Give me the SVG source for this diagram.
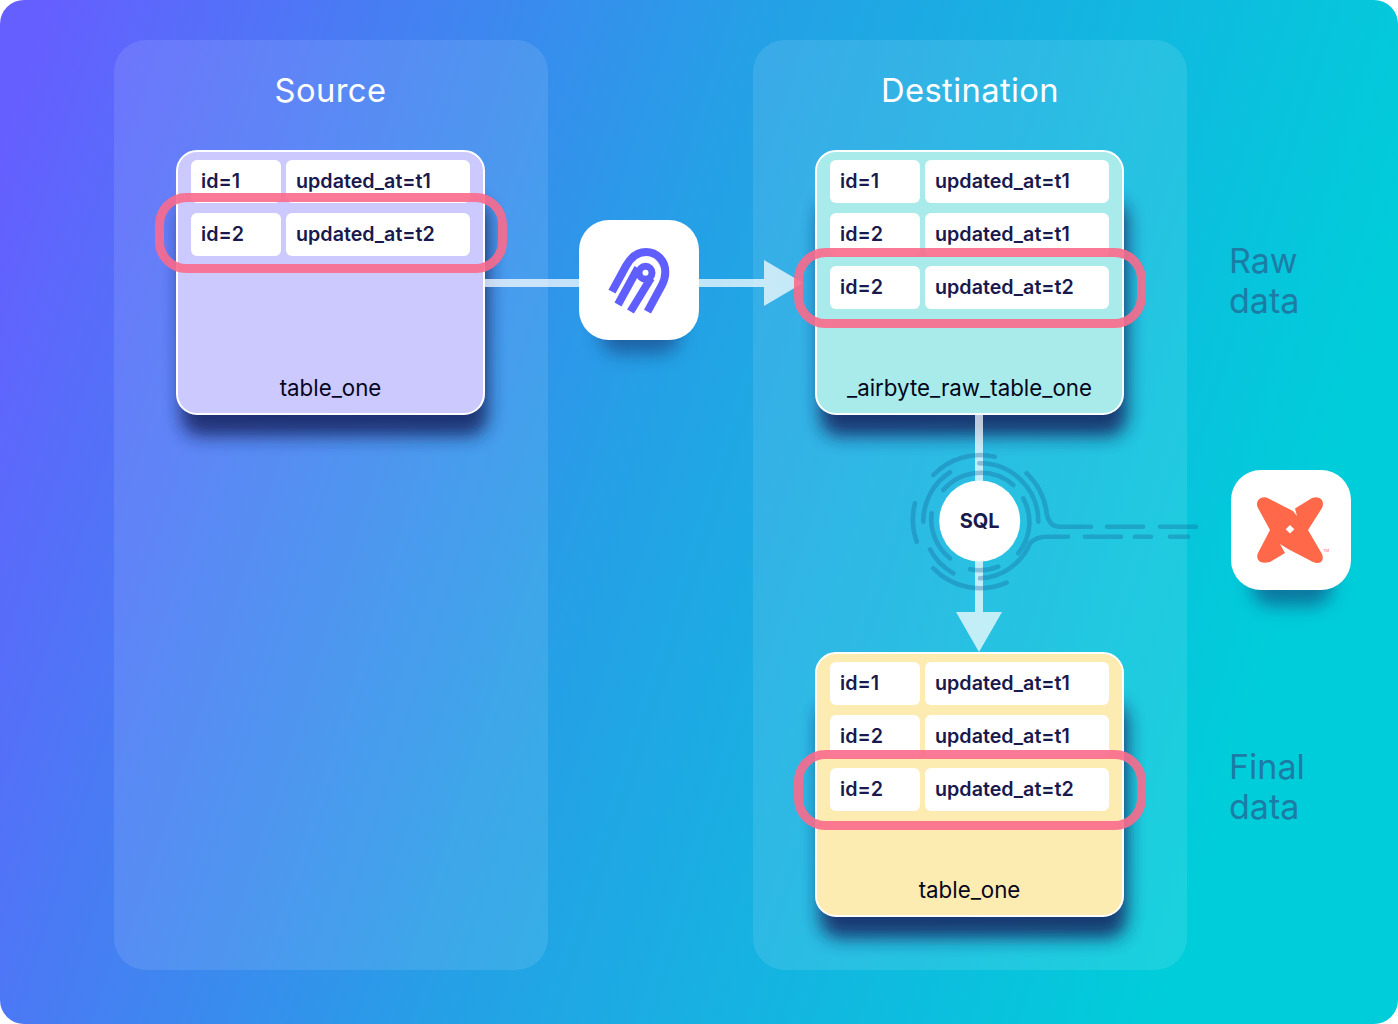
<svg xmlns="http://www.w3.org/2000/svg" width="1398" height="1024" viewBox="0 0 1398 1024">
<style>
text{font-family:Inter,"Liberation Sans",sans-serif}
.title{font-size:32.700px;fill:#fff;text-anchor:middle;letter-spacing:.4px}
.side{font-size:34px;fill:#1b7da6}
.cell{fill:#fff}
.t{font-size:19.7px;font-weight:600;fill:#1a194d}
.name{font-size:22.300px;font-weight:400;fill:#06061c;text-anchor:middle}
.tbl{stroke:#fff;stroke-width:2}
.pink{fill:none;stroke:#f96a8c;stroke-width:9;opacity:.9}
.panel{fill:#fff;fill-opacity:.1}
.flow{fill:#fff;opacity:.72}
.wire{fill:none;stroke:#14679c;stroke-opacity:.35;stroke-width:4.6;stroke-linecap:round}
.sh{fill:#14235f;opacity:.85;filter:url(#blur)}
.ish{fill:#14306f;opacity:.55;filter:url(#blur)}
.tent{fill:none;stroke:#615eff;stroke-width:8}
</style>
<defs>
<linearGradient id="bg" gradientUnits="userSpaceOnUse" x1="0" y1="150" x2="1300" y2="560">
<stop offset="0" stop-color="#655fff"/><stop offset=".5" stop-color="#25a0e6"/><stop offset="1" stop-color="#00cdda"/>
</linearGradient>
<filter id="blur" x="-30%" y="-30%" width="160%" height="160%"><feGaussianBlur stdDeviation="9"/></filter>
</defs>
<rect width="1398" height="1024" fill="#fff"/>
<rect width="1398" height="1024" rx="24" fill="url(#bg)"/>
<g id="source-panel"><rect class="panel" x="114" y="40" width="434" height="930" rx="32"/><text class="title" x="330.500" y="102">Source</text></g>
<g id="destination-panel"><rect class="panel" x="753" y="40" width="434" height="930" rx="32"/><text class="title" x="970" y="102">Destination</text></g>
<g id="raw-label"><text class="side" x="1229" y="273">Raw</text><text class="side" x="1229" y="313">data</text></g>
<g id="final-label"><text class="side" x="1229" y="779">Final</text><text class="side" x="1229" y="819">data</text></g>
<g id="table-shadows">
<rect class="sh" x="181" y="200" width="307" height="236" rx="20"/>
<rect class="sh" x="820" y="200" width="307" height="236" rx="20"/>
<rect class="sh" x="820" y="702" width="307" height="236" rx="20"/>
</g>
<g id="connectors">
<rect x="485" y="279" width="95" height="8" class="flow"/>
<rect x="699" y="279" width="65" height="8" class="flow"/>
<polygon points="764,260 764,306 803,283" class="flow"/>
<rect x="975" y="414" width="8" height="198" class="flow"/>
<polygon points="956,612 1002,612 979,652" class="flow"/>
<g class="wire">
<path d="M933.300 475A66 66 0 0 1 995 456.700"/>
<path d="M979.300 463.300A58 58 0 0 1 1038.300 521.700"/>
<path d="M943.300 490A49.500 49.500 0 0 1 1013.300 485"/>
<path d="M923.300 521.700A58 58 0 0 1 950 472.300"/>
<path d="M1023.300 498.300A49.500 49.500 0 0 1 1018.300 553.300"/>
<path d="M931.700 513.300A49.500 49.500 0 0 0 950 558.300"/>
<path d="M915 503.300A66 66 0 0 0 916.700 541.700"/>
<path d="M930 549.300A58 58 0 0 0 953.300 573.300"/>
<path d="M933.300 568.300A66 66 0 0 0 1006.700 582.700"/>
<path d="M970 569.300A49.500 49.500 0 0 0 998.300 566.700"/>
<path d="M980 578.300A57 57 0 0 0 1030 543.300Q1036 536.700 1047 536.700H1068"/>
<path d="M1026.700 473.300A66 66 0 0 1 1046.700 513.300Q1049 526.700 1060 526.700H1091"/>
<path d="M1107 526.700H1143M1160 526.700H1196M1085 536.700H1121M1135 536.700H1151M1170 536.700H1188"/>
</g>
</g>
<g id="table-source">
<rect class="tbl" x="177" y="151" width="307" height="263" rx="20" fill="#ccc9ff"/>
<rect class="cell" x="191" y="160" width="90" height="43" rx="6"/><rect class="cell" x="286" y="160" width="184" height="43" rx="6"/>
<rect class="cell" x="191" y="213" width="90" height="43" rx="6"/><rect class="cell" x="286" y="213" width="184" height="43" rx="6"/>
<text class="t" x="201" y="188">id=1</text><text class="t" x="296" y="188">updated_at=t1</text>
<text class="t" x="201" y="241">id=2</text><text class="t" x="296" y="241">updated_at=t2</text>
<text class="name" x="330.500" y="395.500">table_one</text>
<rect class="pink" x="159.500" y="197.500" width="343" height="71" rx="27"/>
</g>
<g id="table-raw">
<rect class="tbl" x="816" y="151" width="307" height="263" rx="20" fill="#a9ebea"/>
<rect class="cell" x="830" y="160" width="90" height="43" rx="6"/><rect class="cell" x="925" y="160" width="184" height="43" rx="6"/>
<rect class="cell" x="830" y="213" width="90" height="43" rx="6"/><rect class="cell" x="925" y="213" width="184" height="43" rx="6"/>
<rect class="cell" x="830" y="266" width="90" height="43" rx="6"/><rect class="cell" x="925" y="266" width="184" height="43" rx="6"/>
<text class="t" x="840" y="188">id=1</text><text class="t" x="935" y="188">updated_at=t1</text>
<text class="t" x="840" y="241">id=2</text><text class="t" x="935" y="241">updated_at=t1</text>
<text class="t" x="840" y="294">id=2</text><text class="t" x="935" y="294">updated_at=t2</text>
<text class="name" x="969.500" y="395.500">_airbyte_raw_table_one</text>
<rect class="pink" x="798.500" y="252.500" width="343" height="71" rx="27"/>
</g>
<g id="table-final">
<rect class="tbl" x="816" y="653" width="307" height="263" rx="20" fill="#fcecb2"/>
<rect class="cell" x="830" y="662" width="90" height="43" rx="6"/><rect class="cell" x="925" y="662" width="184" height="43" rx="6"/>
<rect class="cell" x="830" y="715" width="90" height="43" rx="6"/><rect class="cell" x="925" y="715" width="184" height="43" rx="6"/>
<rect class="cell" x="830" y="768" width="90" height="43" rx="6"/><rect class="cell" x="925" y="768" width="184" height="43" rx="6"/>
<text class="t" x="840" y="690">id=1</text><text class="t" x="935" y="690">updated_at=t1</text>
<text class="t" x="840" y="743">id=2</text><text class="t" x="935" y="743">updated_at=t1</text>
<text class="t" x="840" y="796">id=2</text><text class="t" x="935" y="796">updated_at=t2</text>
<text class="name" x="969.500" y="897.500">table_one</text>
<rect class="pink" x="798.500" y="754.500" width="343" height="71" rx="27"/>
</g>
<g id="airbyte">
<rect class="ish" x="600" y="270" width="80" height="84" rx="20"/>
<rect x="579" y="220" width="120" height="120" rx="30" fill="#fff"/>
<g class="tent">
<path d="M612 291.700L626 266C631 257 637 252 646 252C657 252 665.300 261 665.300 272C665.300 277 664 281 662 285L647.500 311.700"/>
<path d="M618 304.500L638 268"/>
<path d="M630.500 311.500L651 278"/>
<circle cx="645.500" cy="272.700" r="6.500" stroke-width="7"/>
</g>
</g>
<g id="sql"><circle cx="979.700" cy="521" r="40.500" fill="#fff"/><text x="979.700" y="528" font-size="20" font-weight="700" fill="#1a194d" text-anchor="middle">SQL</text></g>
<g id="dbt">
<rect class="ish" x="1252" y="530" width="80" height="76" rx="20"/>
<rect x="1231" y="470" width="120" height="120" rx="30" fill="#fff"/>
<path d="M1258 500.500Q1261 496.500 1266.500 497.500L1293 511L1297 516L1295 508.500L1312 498Q1319 496 1322 500Q1324 504 1322 508L1308 530L1322 554Q1324 559 1321 562Q1318 564 1313 562L1288 549L1280 544L1285 553L1270 562Q1262 564 1259 561Q1256 557 1258 553L1270 530L1258 508Q1256 504 1258 500.500Z" fill="#ff694a"/>
<path d="M1290 525l4.300 4.300l-4.300 4.300l-4.300-4.300z" fill="#fff"/>
<text x="1323" y="552" font-size="4" fill="#ff694a">TM</text>
</g>
</svg>
